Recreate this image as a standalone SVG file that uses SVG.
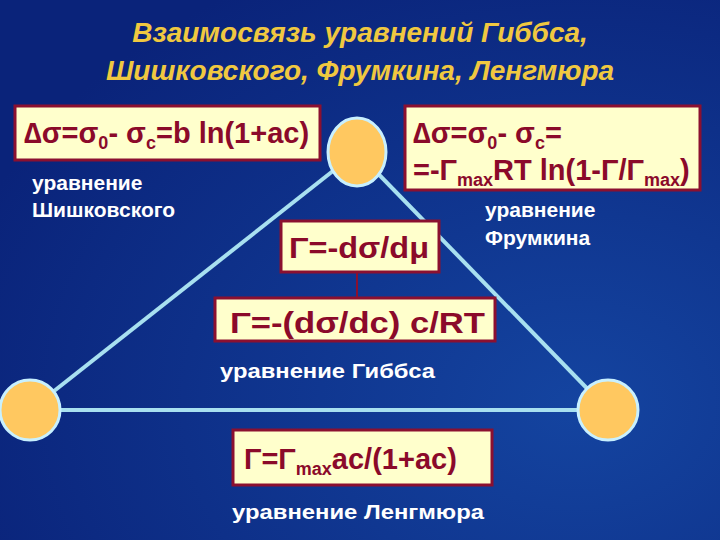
<svg xmlns="http://www.w3.org/2000/svg" width="720" height="540" viewBox="0 0 720 540">
<defs>
<radialGradient id="bg" cx="0.8" cy="0.75" r="0.9">
<stop offset="0" stop-color="#1444A0"/><stop offset="1" stop-color="#0A237A"/>
</radialGradient>
<style>
.box{fill:#FFFFCC;stroke:#8B1030;stroke-width:3}
.f{font-family:"Liberation Sans",Arial,sans-serif;font-weight:bold;fill:#8B0A2A;font-size:29px}
.s{font-size:18px}
.lbl{font-family:"Liberation Sans",Arial,sans-serif;font-weight:bold;fill:#FFFFFF;font-size:21px}
.node{fill:#FFC860;stroke:#C8F0FF;stroke-width:3}
.edge{stroke:#A8E0F0;stroke-width:4;fill:none}
</style>
</defs>
<rect width="720" height="540" fill="url(#bg)"/>
<g id="title" font-family="'Liberation Sans',Arial,sans-serif" font-weight="bold" font-style="italic" font-size="28" fill="#F0C840" text-anchor="middle">
<text x="360" y="42">Взаимосвязь уравнений Гиббса,</text>
<text x="360" y="80">Шишковского, Фрумкина, Ленгмюра</text>
</g>
<g id="connectors">
<line class="edge" x1="357" y1="152" x2="30" y2="410"/>
<line class="edge" x1="357" y1="152" x2="608" y2="410"/>
<line class="edge" x1="0" y1="410" x2="608" y2="410"/>
<line x1="357" y1="272" x2="357" y2="298" stroke="#8B1030" stroke-width="2"/>
</g>
<g id="n-top"><ellipse class="node" cx="357" cy="152" rx="29" ry="34"/></g>
<g id="n-left"><circle class="node" cx="30" cy="410" r="30"/></g>
<g id="n-right"><circle class="node" cx="608" cy="410" r="30"/></g>
<g id="shishkovsky">
<rect class="box" x="15" y="106" width="305" height="54"/>
<text class="f" x="24" y="143">∆σ=σ<tspan class="s" dy="6">0</tspan><tspan dy="-6">- σ</tspan><tspan class="s" dy="6">c</tspan><tspan dy="-6">=b ln(1+ac)</tspan></text>
<text class="lbl" x="32" y="190">уравнение</text>
<text class="lbl" x="32" y="217">Шишковского</text>
</g>
<g id="frumkin">
<rect class="box" x="405" y="106" width="295" height="84"/>
<text class="f" x="413" y="143">∆σ=σ<tspan class="s" dy="6">0</tspan><tspan dy="-6">- σ</tspan><tspan class="s" dy="6">c</tspan><tspan dy="-6">=</tspan></text>
<text class="f" x="413" y="180">=-Γ<tspan class="s" dy="6">max</tspan><tspan dy="-6">RT ln(1-Γ/Γ</tspan><tspan class="s" dy="6">max</tspan><tspan dy="-6">)</tspan></text>
<text class="lbl" x="485" y="217">уравнение</text>
<text class="lbl" x="485" y="245">Фрумкина</text>
</g>
<g id="gibbs1">
<rect class="box" x="281" y="221" width="158" height="51"/>
<text class="f" x="289" y="258" textLength="140" lengthAdjust="spacingAndGlyphs">Γ=-dσ/dμ</text>
</g>
<g id="gibbs2">
<rect class="box" x="215" y="298" width="280" height="43"/>
<text class="f" x="230" y="333" textLength="255" lengthAdjust="spacingAndGlyphs">Γ=-(dσ/dc) c/RT</text>
<text class="lbl" x="220" y="378" textLength="215" lengthAdjust="spacingAndGlyphs">уравнение Гиббса</text>
</g>
<g id="langmuir">
<rect class="box" x="233" y="430" width="259" height="55"/>
<text class="f" x="244" y="469">Γ=Γ<tspan class="s" dy="6">max</tspan><tspan dy="-6">ac/(1+ac)</tspan></text>
<text class="lbl" x="232" y="519" textLength="252" lengthAdjust="spacingAndGlyphs">уравнение Ленгмюра</text>
</g>
</svg>
